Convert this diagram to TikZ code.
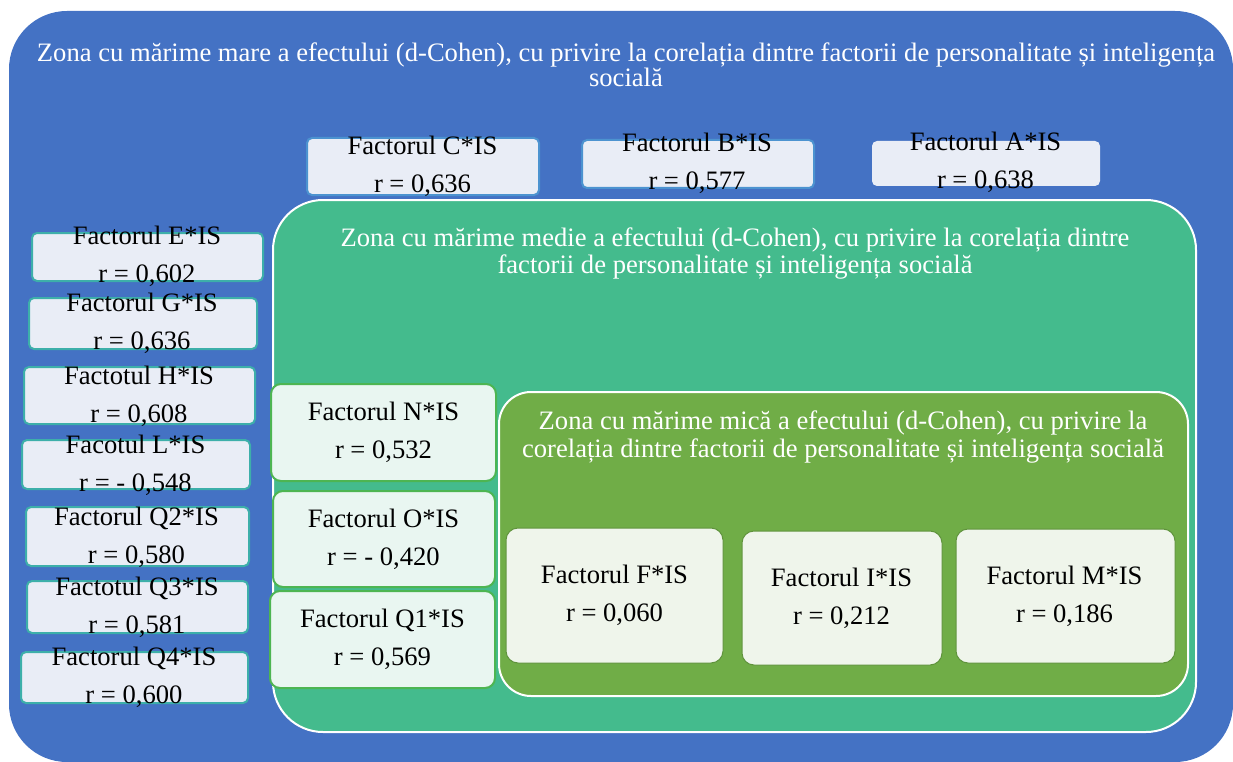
\documentclass[tikz,border=0pt]{standalone}
\usepackage{fontspec}
\setmainfont{Liberation Serif}
\definecolor{bluebg}{HTML}{4472C4}
\definecolor{medgreen}{HTML}{44BB8D}
\definecolor{smallgreen}{HTML}{70AD47}
\definecolor{bluebox}{HTML}{E9EDF6}
\definecolor{tealedge}{HTML}{3DAFAA}
\definecolor{topedge}{HTML}{4C93D0}
\definecolor{medbox}{HTML}{E9F6F1}
\definecolor{medEdge}{HTML}{4DB552}
\definecolor{smallbox}{HTML}{EFF5EB}
\tikzset{
  zone/.style={rectangle, draw=white, line width=2pt, inner sep=0pt},
  ztitle/.style={align=center, text=white, inner sep=0pt},
  bbox/.style={rectangle, fill=bluebox, draw=tealedge, line width=2pt, rounded corners=5pt, inner sep=0pt},
  tbox/.style={rectangle, fill=bluebox, draw=topedge, line width=2pt, rounded corners=5pt, inner sep=0pt},
  mbox/.style={rectangle, fill=medbox, draw=medEdge, line width=2pt, rounded corners=10pt, inner sep=0pt},
  sbox/.style={rectangle, fill=smallbox, draw=smallgreen!85!black, line width=1pt, rounded corners=12pt, inner sep=0pt},
  ftxt/.style={align=center, inner sep=0pt, text=black, font=\fontsize{26.6}{38}\selectfont},
}
\begin{document}
\begin{tikzpicture}[x=1pt,y=-1pt]
\useasboundingbox (0,0) rectangle (1233,762);
% big zone
\node[zone, draw=none, fill=bluebg, minimum width=1224pt, minimum height=751pt, rounded corners=58pt] (big) at (621,386.5) {};
\node[ztitle, font=\fontsize{26.6}{25}\selectfont] (bigt) at (626,64.5) {Zona cu mărime mare a efectului (d-Cohen), cu privire la corelația dintre factorii de personalitate și inteligența\\socială};
% top boxes
\node[tbox, minimum width=232pt, minimum height=57pt] (cb) at (423,166.5) {};
\node[ftxt] (ct) at (422.5,166) {Factorul C*IS\\r = 0,636};
\node[tbox, minimum width=232pt, minimum height=48pt] (bb) at (698,164) {};
\node[ftxt] (bt) at (697,163.5) {Factorul B*IS\\r = 0,577};
\node[tbox, draw=none, minimum width=228pt, minimum height=45pt] (ab) at (986,163.5) {};
\node[ftxt] (at) at (985.5,162.5) {Factorul A*IS\\r = 0,638};
% left boxes
\node[bbox, minimum width=231pt, minimum height=48pt] (eb) at (147.5,257) {};
\node[ftxt] (et) at (147,256.5) {Factorul E*IS\\r = 0,602};
\node[bbox, minimum width=228pt, minimum height=51pt] (gb) at (143,323.5) {};
\node[ftxt] (gt) at (142,323.5) {Factorul G*IS\\r = 0,636};
\node[bbox, minimum width=231pt, minimum height=57pt] (hb) at (139.5,395.5) {};
\node[ftxt] (ht) at (139,396) {Factotul H*IS\\r = 0,608};
\node[bbox, minimum width=228pt, minimum height=49pt] (lb) at (136,464.5) {};
\node[ftxt] (lt) at (135.5,465) {Facotul L*IS\\r = - 0,548};
\node[bbox, minimum width=223pt, minimum height=59pt] (q2b) at (137.5,536.5) {};
\node[ftxt] (q2t) at (136.5,537) {Factorul Q2*IS\\r = 0,580};
\node[bbox, minimum width=221pt, minimum height=52pt] (q3b) at (137.5,607) {};
\node[ftxt] (q3t) at (137,607) {Factotul Q3*IS\\r = 0,581};
\node[bbox, minimum width=227pt, minimum height=51pt] (q4b) at (134.5,677.5) {};
\node[ftxt] (q4t) at (134,677) {Factorul Q4*IS\\r = 0,600};
% medium zone
\node[zone, fill=medgreen, minimum width=923pt, minimum height=532pt, rounded corners=50pt] (med) at (734.5,466) {};
\node[ztitle, font=\fontsize{26.6}{27}\selectfont] (medt) at (735,253.5) {Zona cu mărime medie a efectului (d-Cohen), cu privire la corelația dintre\\factorii de personalitate și inteligența socială};
\node[mbox, minimum width=225pt, minimum height=97pt] (nb) at (383.5,432.5) {};
\node[ftxt] (nt) at (383.5,432.5) {Factorul N*IS\\r = 0,532};
\node[mbox, minimum width=222pt, minimum height=96pt] (ob) at (384,539) {};
\node[ftxt] (ot) at (383.5,539) {Factorul O*IS\\r = - 0,420};
\node[mbox, minimum width=225pt, minimum height=97pt] (q1b) at (382.5,639.5) {};
\node[ftxt] (q1t) at (382.5,639) {Factorul Q1*IS\\r = 0,569};
% small zone
\node[zone, fill=smallgreen, minimum width=689pt, minimum height=304pt, rounded corners=32pt] (small) at (843.5,544) {};
\node[ztitle, font=\fontsize{26.6}{28}\selectfont] (smallt) at (843,437) {Zona cu mărime mică a efectului (d-Cohen), cu privire la\\corelația dintre factorii de personalitate și inteligența socială};
\node[sbox, minimum width=217pt, minimum height=135pt] (fb) at (614.5,595.5) {};
\node[ftxt] (ft) at (614.5,595.5) {Factorul F*IS\\r = 0,060};
\node[sbox, minimum width=200pt, minimum height=134pt] (ib) at (842,598) {};
\node[ftxt] (it) at (841.5,598) {Factorul I*IS\\r = 0,212};
\node[sbox, minimum width=219pt, minimum height=134pt] (mb) at (1065.5,596) {};
\node[ftxt] (mt) at (1064.5,596) {Factorul M*IS\\r = 0,186};
\end{tikzpicture}
\end{document}
